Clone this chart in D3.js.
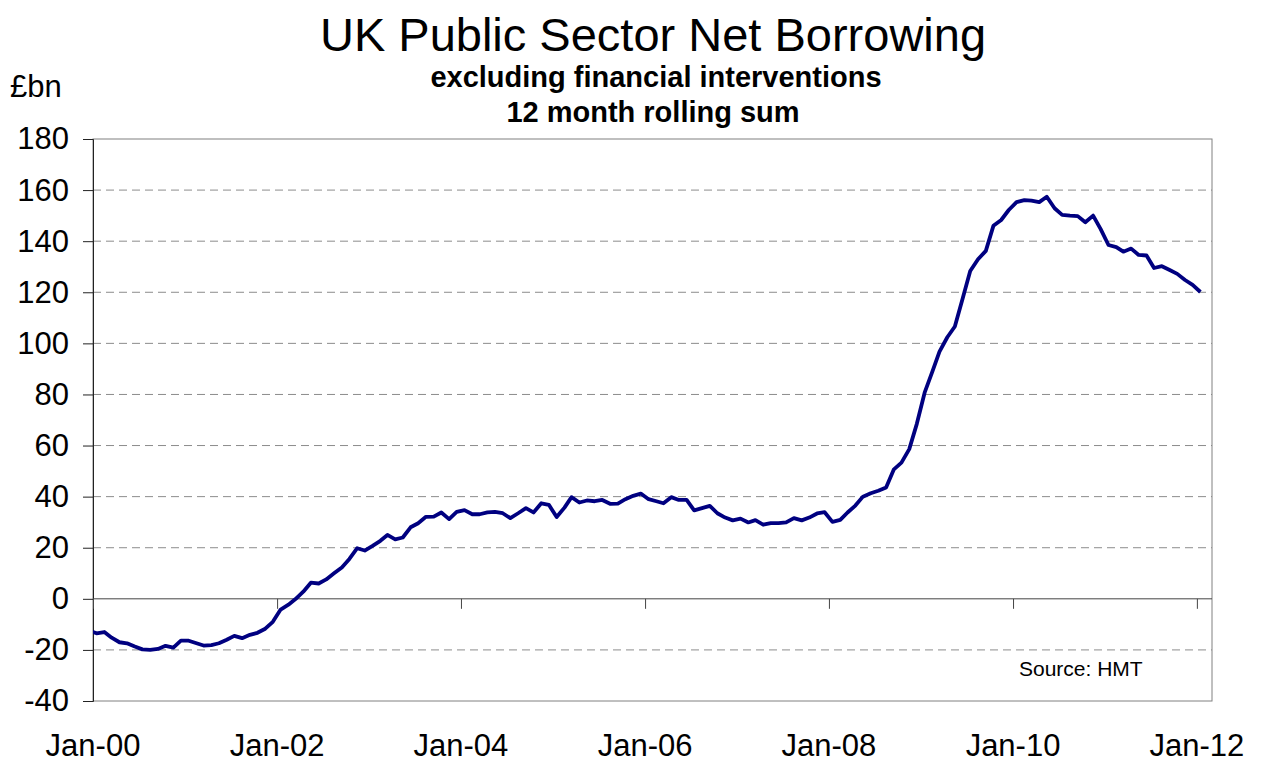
<!DOCTYPE html>
<html>
<head>
<meta charset="utf-8">
<script src="https://cdn.jsdelivr.net/npm/d3@7"></script>
<style>
  body { margin: 0; background: #fff; }
  text { font-family: Arial, "Liberation Sans", sans-serif; }
</style>
</head>
<body>
<div id="chart"></div>
<script>
// monthly series, first value is Dec-99 (clipped at the left edge)
const firstMonth = [1999, 11];
const borrowing = [
  -12.3,
  -13.5, -13.0, -15.2, -17.0, -17.4, -18.7, -19.8, -20.0, -19.6, -18.4, -19.1, -16.4,
  -16.4, -17.4, -18.3, -18.1, -17.4, -16.0, -14.5, -15.4, -14.1, -13.3, -11.7, -9.0,
  -4.2, -2.3, -0.1, 2.8, 6.3, 6.0, 7.6, 10.0, 12.3, 15.6, 19.8, 18.9,
  20.7, 22.7, 25.0, 23.3, 24.0, 28.0, 29.6, 32.1, 32.2, 33.8, 31.2, 34.0,
  34.7, 33.1, 33.1, 33.8, 34.0, 33.5, 31.6, 33.5, 35.5, 33.8, 37.4, 36.8,
  32.0, 35.7, 39.8, 37.7, 38.5, 38.2, 38.7, 37.2, 37.3, 39.0, 40.3, 41.2,
  39.0, 38.2, 37.4, 39.8, 38.7, 38.7, 34.6, 35.5, 36.4, 33.5, 31.8, 30.7,
  31.4, 29.9, 30.8, 29.0, 29.6, 29.6, 29.9, 31.6, 30.7, 31.8, 33.4, 33.9,
  30.1, 30.9, 33.8, 36.5, 40.0, 41.3, 42.3, 43.6, 50.7, 53.3, 58.6, 68.5,
  80.7, 89.0, 96.8, 102.4, 106.6, 117.6, 128.3, 132.9, 136.2, 146.0, 148.3, 152.2,
  155.3, 156.1, 155.9, 155.3, 157.4, 152.9, 150.3, 150.0, 149.8, 147.4, 150.0, 144.7,
  138.5, 137.7, 135.9, 137.1, 134.6, 134.4, 129.5, 130.2, 128.7, 127.2, 124.8, 122.9,
  120.1
];
const yTicks = [-40, -20, 0, 20, 40, 60, 80, 100, 120, 140, 160, 180];
const xTickYears = [2000, 2002, 2004, 2006, 2008, 2010, 2012];
const xTickLabels = ["Jan-00", "Jan-02", "Jan-04", "Jan-06", "Jan-08", "Jan-10", "Jan-12"];

const width = 1263, height = 764;
const plotL = 93, plotR = 1212, plotT = 139, plotB = 701;

const svg = d3.select("#chart").append("svg")
  .attr("width", width)
  .attr("height", height);

const x = d3.scaleTime()
  .domain([new Date(2000, 0, 1), new Date(2012, 2, 1)])
  .range([plotL, plotR]);
const y = d3.scaleLinear()
  .domain([-40, 180])
  .range([plotB, plotT]);

const data = borrowing.map((v, i) => ({
  date: new Date(firstMonth[0], firstMonth[1] + i, 15),
  value: v
}));

// titles
svg.append("text")
  .attr("x", 653).attr("y", 51)
  .attr("text-anchor", "middle")
  .attr("font-size", 47)
  .text("UK Public Sector Net Borrowing");
svg.append("text")
  .attr("x", 656).attr("y", 87)
  .attr("text-anchor", "middle")
  .attr("font-size", 29).attr("font-weight", "bold")
  .text("excluding financial interventions");
svg.append("text")
  .attr("x", 653).attr("y", 122)
  .attr("text-anchor", "middle")
  .attr("font-size", 29).attr("font-weight", "bold")
  .text("12 month rolling sum");
svg.append("text")
  .attr("x", 10).attr("y", 97)
  .attr("font-size", 31)
  .text("£bn");

// gridlines
svg.append("g")
  .selectAll("line")
  .data(yTicks.filter(d => d !== -40 && d !== 0 && d !== 180))
  .enter().append("line")
    .attr("x1", plotL).attr("x2", plotR)
    .attr("y1", d => y(d)).attr("y2", d => y(d))
    .attr("stroke", "#8c8c8c")
    .attr("stroke-width", 1)
    .attr("stroke-dasharray", "8,5");

// plot frame
svg.append("rect")
  .attr("x", plotL).attr("y", plotT)
  .attr("width", plotR - plotL).attr("height", plotB - plotT)
  .attr("fill", "none")
  .attr("stroke", "#808080")
  .attr("stroke-width", 1);

// y axis
const yAxis = svg.append("g")
  .attr("transform", `translate(${plotL},0)`)
  .call(d3.axisLeft(y).tickValues(yTicks).tickSize(10).tickPadding(14)
    .tickFormat(d => String(d)));
yAxis.select(".domain").attr("stroke", "#222");
yAxis.selectAll(".tick line").attr("stroke", "#222");
yAxis.selectAll("text")
  .attr("font-size", 31)
  .attr("font-family", "Arial, 'Liberation Sans', sans-serif")
  .attr("fill", "#000");

// x axis on zero line
const xAxis = svg.append("g")
  .attr("transform", `translate(0,${y(0)})`)
  .call(d3.axisBottom(x)
    .tickValues(xTickYears.map(yr => new Date(yr, 0, 1)))
    .tickSize(10)
    .tickFormat(""));
xAxis.select(".domain").attr("stroke", "#444").attr("d", `M${plotL},0H${plotR}`);
xAxis.selectAll(".tick line").attr("stroke", "#444");

// x labels along the bottom
svg.append("g")
  .selectAll("text")
  .data(xTickYears)
  .enter().append("text")
    .attr("x", d => x(new Date(d, 0, 1)))
    .attr("y", 756)
    .attr("text-anchor", "middle")
    .attr("font-size", 31)
    .text((d, i) => xTickLabels[i]);

// series line
svg.append("clipPath").attr("id", "plot-clip")
  .append("rect")
    .attr("x", plotL).attr("y", plotT)
    .attr("width", plotR - plotL).attr("height", plotB - plotT);

svg.append("path")
  .datum(data)
  .attr("clip-path", "url(#plot-clip)")
  .attr("fill", "none")
  .attr("stroke", "#000080")
  .attr("stroke-width", 3.8)
  .attr("stroke-linejoin", "round")
  .attr("d", d3.line().x(d => x(d.date)).y(d => y(d.value)));

svg.append("text")
  .attr("x", 1019).attr("y", 676)
  .attr("font-size", 21)
  .text("Source: HMT");
</script>
</body>
</html>
